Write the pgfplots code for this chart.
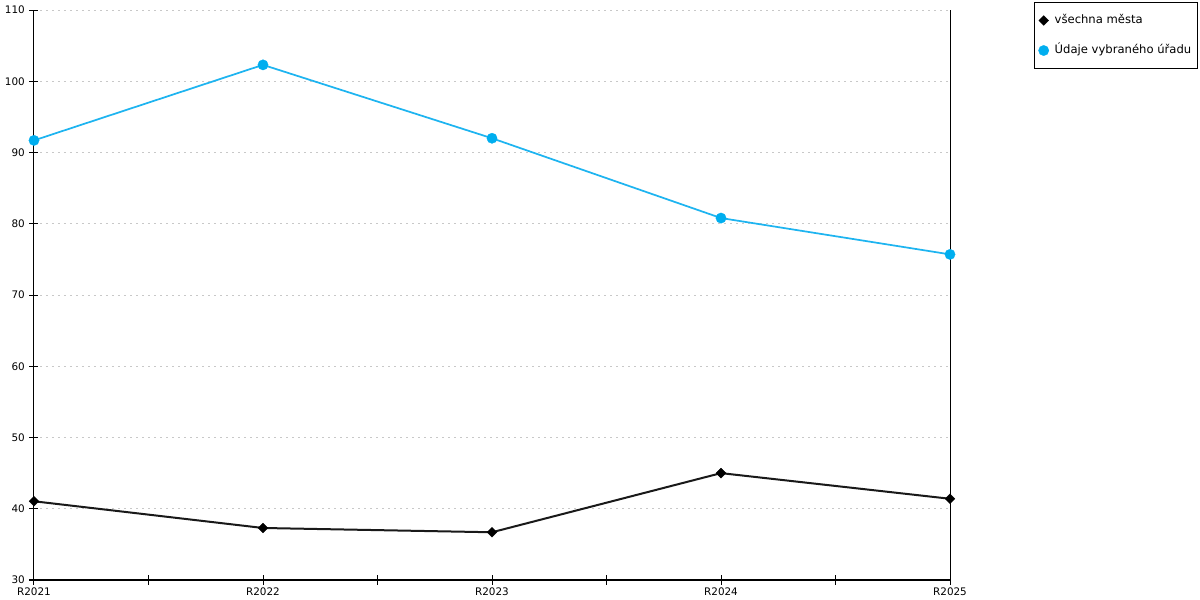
\documentclass[border=0pt]{standalone}
\usepackage{fontspec}
\setmainfont{DejaVu Sans}
\usepackage{pgfplots}
\pgfplotsset{compat=1.18}
\definecolor{cblue}{RGB}{0,174,239}
\definecolor{cline}{RGB}{30,180,240}
\definecolor{cgrid}{RGB}{200,200,200}
\begin{document}
\begin{tikzpicture}
\path[use as bounding box] (0,0) rectangle (900pt,450pt);
\begin{axis}[
  at={(25.5pt,15pt)}, anchor=south west,
  scale only axis, width=687pt, height=427.5pt,
  xmin=0, xmax=4, ymin=30, ymax=110,
  axis lines=left, axis line style={-, black, line width=0.75pt},
  xtick={0,1,2,3,4}, xticklabels={R2021,R2022,R2023,R2024,R2025},
  minor xtick={0.5,1.5,2.5,3.5},
  ytick={30,40,...,110},
  tick align=center, major tick length=6.75pt, minor tick length=6.75pt,
  tick style={black, line width=0.75pt},
  ymajorgrids, grid style={cgrid, line width=0.75pt, dash pattern=on 1.5pt off 3pt},
  /pgf/number format/assume math mode=true,
  tick label style={font=\fontsize{7.8}{9}\selectfont},
  xticklabel style={yshift=1pt},
  clip=false,
  legend style={at={(1.0917,1.0146)}, anchor=north west, draw=black, line width=0.75pt,
    inner xsep=3pt, inner ysep=8pt, row sep=11pt,
    font=\fontsize{8.7}{10}\selectfont,
    nodes={inner sep=1.5pt, text height=6.5pt, text depth=2pt}},
  legend cell align=left,
  legend image code/.code={\path (0pt,0pt) (9pt,0pt); \draw[#1] plot coordinates {(3pt,0pt)};},
]
\draw[black, line width=0.75pt] (rel axis cs:1,0) -- (rel axis cs:1,1);
\addplot[color=black!90, line width=1.5pt, mark=square*, mark size=2.6pt, mark options={rotate=45, fill=black, draw=black, line width=0.3pt}]
  coordinates {(0,41.05) (1,37.3) (2,36.7) (3,45.0) (4,41.4)};
\addlegendentry{všechna města}
\addplot[color=cline, line width=1.3pt, mark=*, mark size=3.9pt, mark options={fill=cblue, draw=cblue, line width=0.2pt}]
  coordinates {(0,91.7) (1,102.3) (2,92.0) (3,80.8) (4,75.7)};
\addlegendentry{Údaje vybraného úřadu}
\end{axis}
\end{tikzpicture}
\end{document}
